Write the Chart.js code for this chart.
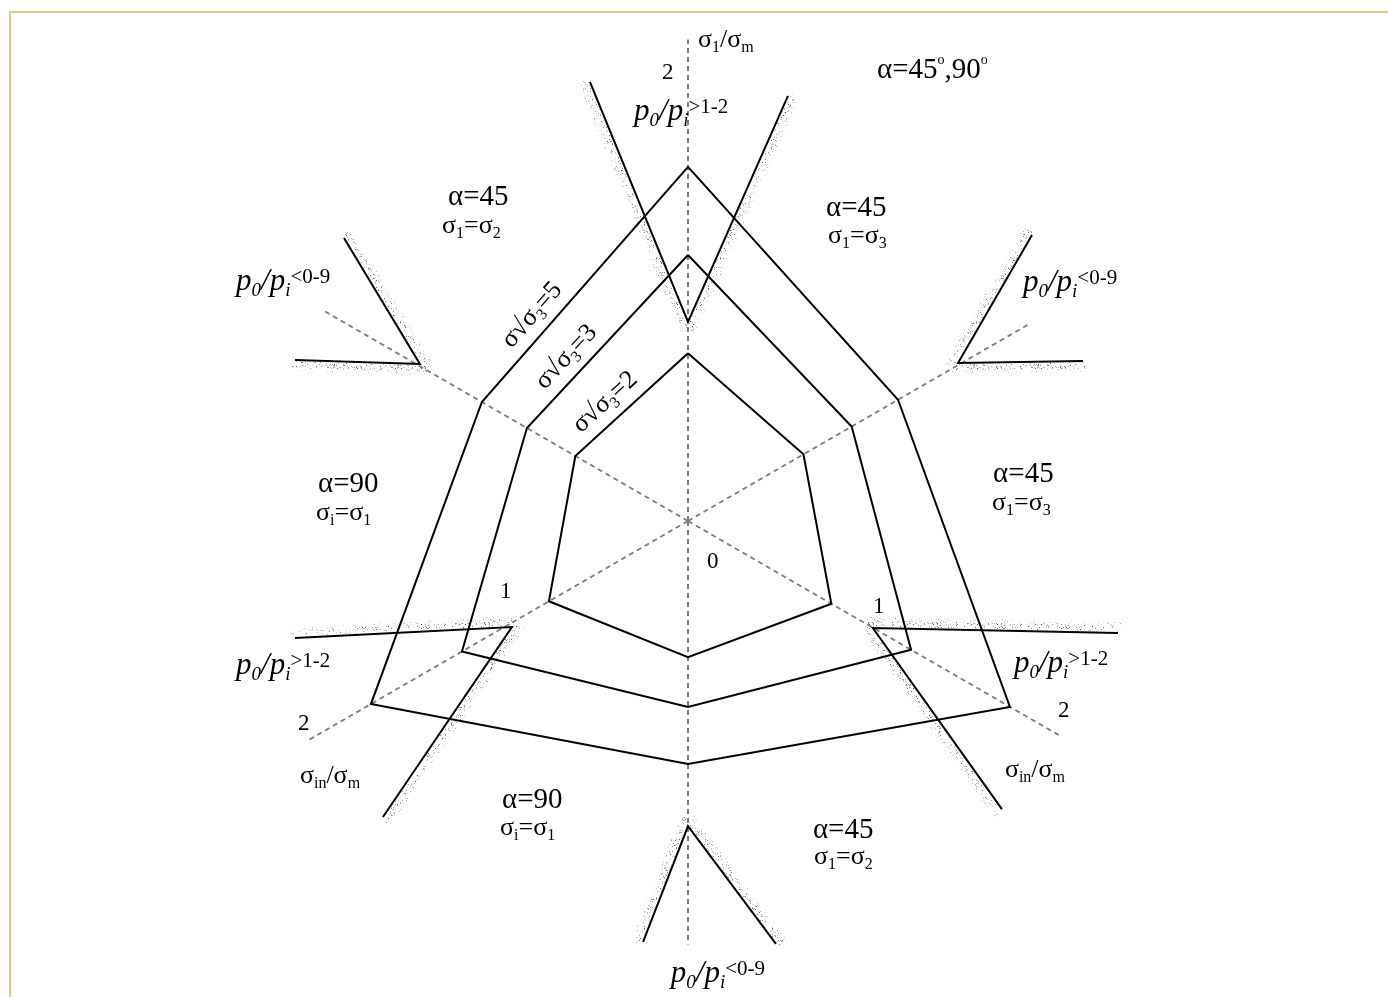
<!DOCTYPE html>
<html>
<head>
<meta charset="utf-8">
<script src="https://cdn.jsdelivr.net/npm/chart.js@4.4.1/dist/chart.umd.min.js"></script>
<style>
  html, body { margin: 0; padding: 0; background: #ffffff; overflow: hidden; }
  #frame {
    position: absolute; left: 9px; top: 11px; width: 1379px; height: 986px;
    border-top: 2px solid #e2c88f; border-left: 2px solid #e2c88f;
  }
  #wrap { position: absolute; left: 0; top: 0; width: 1388px; height: 997px; }
</style>
</head>
<body>
<div id="frame"></div>
<div id="wrap"><canvas id="diagram" width="1388" height="997"></canvas></div>
<script>
const UNIT = 215;          // pixels per unit, same on both axes
const ORIGIN_X = 688;
const ORIGIN_Y = 521;
const SERIF = '"Liberation Serif", "Times New Roman", serif';

// six half-axes: σ1/σm up, σin/σm at lower left and lower right
const axisAngles = [90, 30, -30, -90, -150, 150];
const axisLengths = [2.24, 1.84, 1.99, 1.97, 2.04, 1.95];

// hexagon radii along the six half-axes
const radiiRatio2 = [0.78, 0.62, 0.77, 0.633, 0.747, 0.605];
const radiiRatio3 = [1.237, 0.879, 1.198, 0.865, 1.214, 0.865];
const radiiRatio5 = [1.647, 1.128, 1.729, 1.13, 1.703, 1.107];

// limit lines: arm end, corner, arm end
const limitTop = [[-0.456, 2.042], [0, 0.926], [0.465, 1.977]];
const limitUpperLeft = [[-1.6, 1.316], [-1.247, 0.73], [-1.828, 0.749]];
const limitUpperRight = [[1.6, 1.33], [1.256, 0.735], [1.837, 0.744]];
const limitLowerLeft = [[-1.828, -0.544], [-0.819, -0.493], [-1.419, -1.377]];
const limitLowerRight = [[2.0, -0.521], [0.86, -0.498], [1.46, -1.34]];
const limitBottom = [[-0.209, -1.958], [0, -1.419], [0.409, -1.967]];
const limits = [limitTop, limitUpperLeft, limitUpperRight, limitLowerLeft, limitLowerRight, limitBottom];

const textStyles = {
  big: { size: 29, italic: false, dy: 0 },
  sig: { size: 26, italic: false, dy: 0 },
  sub: { size: 16, italic: false, dy: 5 },
  sup: { size: 14, italic: false, dy: -14 },
  num: { size: 23, italic: false, dy: 0 },
  p: { size: 31, italic: true, dy: 0 },
  psub: { size: 19, italic: true, dy: 6 },
  rel: { size: 21, italic: false, dy: -7 },
};

const pGreater = [["p", "p"], ["0", "psub"], ["/", "p"], ["p", "p"], ["i", "psub"], [">1-2", "rel"]];
const pLess = [["p", "p"], ["0", "psub"], ["/", "p"], ["p", "p"], ["i", "psub"], ["<0-9", "rel"]];
const sigmaIn = [["σ", "sig"], ["in", "sub"], ["/", "sig"], ["σ", "sig"], ["m", "sub"]];

function alphaPair(value, a, b) {
  return [
    [["α=" + value, "big"]],
    [["σ", "sig"], [a, "sub"], ["=", "sig"], ["σ", "sig"], [b, "sub"]],
  ];
}

const labels = [
  { at: [0.047, 2.205], parts: [["σ", "sig"], ["1", "sub"], ["/", "sig"], ["σ", "sig"], ["m", "sub"]] },
  { at: [-0.121, 2.056], parts: [["2", "num"]] },
  { at: [-0.251, 1.865], parts: pGreater },
  { at: [0.879, 2.06], parts: [["α=45", "big"], ["o", "sup"], [",90", "big"], ["o", "sup"]] },
  { at: [-1.116, 1.47], parts: alphaPair("45", "1", "2")[0] },
  { at: [-1.144, 1.34], parts: alphaPair("45", "1", "2")[1] },
  { at: [0.642, 1.419], parts: alphaPair("45", "1", "3")[0] },
  { at: [0.651, 1.293], parts: alphaPair("45", "1", "3")[1] },
  { at: [1.419, 0.181], parts: alphaPair("45", "1", "3")[0] },
  { at: [1.414, 0.051], parts: alphaPair("45", "1", "3")[1] },
  { at: [-1.721, 0.135], parts: alphaPair("90", "i", "1")[0] },
  { at: [-1.73, 0.005], parts: alphaPair("90", "i", "1")[1] },
  { at: [-0.865, -1.335], parts: alphaPair("90", "i", "1")[0] },
  { at: [-0.874, -1.46], parts: alphaPair("90", "i", "1")[1] },
  { at: [0.581, -1.474], parts: alphaPair("45", "1", "2")[0] },
  { at: [0.586, -1.595], parts: alphaPair("45", "1", "2")[1] },
  { at: [-2.102, 1.074], parts: pLess },
  { at: [1.558, 1.07], parts: pLess },
  { at: [-2.102, -0.712], parts: pGreater },
  { at: [1.516, -0.702], parts: pGreater },
  { at: [-0.08, -2.144], parts: pLess },
  { at: [-0.874, -0.358], parts: [["1", "num"]] },
  { at: [0.86, -0.428], parts: [["1", "num"]] },
  { at: [-1.814, -0.972], parts: [["2", "num"]] },
  { at: [1.721, -0.912], parts: [["2", "num"]] },
  { at: [0.088, -0.219], parts: [["0", "num"]] },
  { at: [-1.805, -1.219], parts: sigmaIn },
  { at: [1.474, -1.191], parts: sigmaIn },
];

// contour captions, written along the upper-left edge of each hexagon
const contourValues = ["5", "3", "2"];
const contourRadii = [radiiRatio5, radiiRatio3, radiiRatio2];
const contourCenters = [[-0.726, 0.958], [-0.567, 0.763], [-0.386, 0.553]];

function polar(r, deg) {
  const a = deg * Math.PI / 180;
  return { x: r * Math.cos(a), y: r * Math.sin(a) };
}

function hexagon(radii) {
  const pts = radii.map(function (r, i) {
    return polar(r, axisAngles[i]);
  });
  pts.push(pts[0]);
  return pts;
}

function lineSet(data, opts) {
  return Object.assign({
    data: data,
    showLine: true,
    pointRadius: 0,
    pointHoverRadius: 0,
    borderColor: "#000000",
    borderWidth: 2,
    borderJoinStyle: "miter",
    fill: false,
    tension: 0,
  }, opts || {});
}

function setFont(ctx, st) {
  ctx.font = (st.italic ? "italic " : "") + st.size + "px " + SERIF;
}

function richWidth(ctx, parts) {
  let w = 0;
  parts.forEach(function (p) {
    setFont(ctx, textStyles[p[1]]);
    w += ctx.measureText(p[0]).width;
  });
  return w;
}

function drawRich(ctx, x, y, parts) {
  parts.forEach(function (p) {
    const st = textStyles[p[1]];
    setFont(ctx, st);
    ctx.fillText(p[0], x, y + st.dy);
    x += ctx.measureText(p[0]).width;
  });
}

let speckleDense = null;
let speckleLight = null;

function makeSpeckle(ctx, count, lo, hi, seed) {
  const c = document.createElement("canvas");
  c.width = 64;
  c.height = 64;
  const g = c.getContext("2d");
  const next = function () {
    seed = (seed * 16807) % 2147483647;
    return seed / 2147483647;
  };
  for (let i = 0; i < count; i++) {
    const v = Math.floor(lo + next() * (hi - lo));
    g.fillStyle = "rgba(" + v + "," + v + "," + v + "," + (0.5 + next() * 0.5).toFixed(2) + ")";
    g.fillRect(Math.floor(next() * 64), Math.floor(next() * 64), 1, 1);
  }
  return ctx.createPattern(c, "repeat");
}

// stippled band on the outer side of each limit line
const stipplePlugin = {
  id: "stipple",
  beforeDatasetsDraw: function (chart) {
    const ctx = chart.ctx;
    const sx = chart.scales.x;
    const sy = chart.scales.y;
    if (!speckleDense) {
      speckleDense = makeSpeckle(ctx, 380, 60, 170, 11);
      speckleLight = makeSpeckle(ctx, 300, 150, 215, 29);
    }
    ctx.save();
    ctx.lineCap = "butt";
    limits.forEach(function (lim) {
      const px = lim.map(function (p) {
        return [sx.getPixelForValue(p[0]), sy.getPixelForValue(p[1])];
      });
      const v = px[1];
      [[px[0], px[2]], [px[2], px[0]]].forEach(function (pair) {
        const end = pair[0];
        const other = pair[1];
        const ax = end[0] - v[0];
        const ay = end[1] - v[1];
        const len = Math.hypot(ax, ay);
        const ux = ax / len;
        const uy = ay / len;
        let nx = -uy;
        let ny = ux;
        if (nx * (other[0] - v[0]) + ny * (other[1] - v[1]) > 0) {
          nx = -nx;
          ny = -ny;
        }
        [[4.5, 6, speckleDense], [8, 6, speckleLight]].forEach(function (b) {
          ctx.beginPath();
          ctx.moveTo(v[0] - ux * 7 + nx * b[0], v[1] - uy * 7 + ny * b[0]);
          ctx.lineTo(end[0] + ux * 3 + nx * b[0], end[1] + uy * 3 + ny * b[0]);
          ctx.lineWidth = b[1];
          ctx.strokeStyle = b[2];
          ctx.stroke();
        });
      });
    });
    ctx.restore();
  },
};

const labelPlugin = {
  id: "labels",
  afterDatasetsDraw: function (chart) {
    const ctx = chart.ctx;
    const sx = chart.scales.x;
    const sy = chart.scales.y;
    ctx.save();
    ctx.fillStyle = "#000000";
    ctx.textBaseline = "alphabetic";
    ctx.textAlign = "left";
    labels.forEach(function (l) {
      drawRich(ctx, sx.getPixelForValue(l.at[0]), sy.getPixelForValue(l.at[1]), l.parts);
    });

    contourValues.forEach(function (val, i) {
      const r = contourRadii[i];
      const a = polar(r[5], axisAngles[5]);
      const b = polar(r[0], axisAngles[0]);
      const ang = Math.atan2(
        sy.getPixelForValue(b.y) - sy.getPixelForValue(a.y),
        sx.getPixelForValue(b.x) - sx.getPixelForValue(a.x)
      );
      const parts = [["σ", "sig"], ["√", "sig"], ["σ", "sig"], ["3", "sub"], ["=" + val, "sig"]];
      const w = richWidth(ctx, parts);
      ctx.save();
      ctx.translate(sx.getPixelForValue(contourCenters[i][0]), sy.getPixelForValue(contourCenters[i][1]));
      ctx.rotate(ang);
      drawRich(ctx, -w / 2, 7, parts);
      ctx.restore();
    });
    ctx.restore();
  },
};

const datasets = [];

limits.forEach(function (lim) {
  datasets.push(lineSet(lim.map(function (p) {
    return { x: p[0], y: p[1] };
  })));
});

[radiiRatio2, radiiRatio3, radiiRatio5].forEach(function (radii) {
  datasets.push(lineSet(hexagon(radii)));
});

axisAngles.forEach(function (deg, i) {
  datasets.push(lineSet([{ x: 0, y: 0 }, polar(axisLengths[i], deg)], {
    borderColor: "#7b7b7b",
    borderWidth: 2,
    borderDash: [5, 4],
  }));
});

new Chart(document.getElementById("diagram"), {
  type: "scatter",
  data: { datasets: datasets },
  options: {
    responsive: false,
    animation: false,
    events: [],
    layout: { padding: 0 },
    plugins: {
      legend: { display: false },
      tooltip: { enabled: false },
    },
    scales: {
      x: { type: "linear", display: false, min: -ORIGIN_X / UNIT, max: (1388 - ORIGIN_X) / UNIT },
      y: { type: "linear", display: false, min: -(997 - ORIGIN_Y) / UNIT, max: ORIGIN_Y / UNIT },
    },
  },
  plugins: [stipplePlugin, labelPlugin],
});
</script>
</body>
</html>
